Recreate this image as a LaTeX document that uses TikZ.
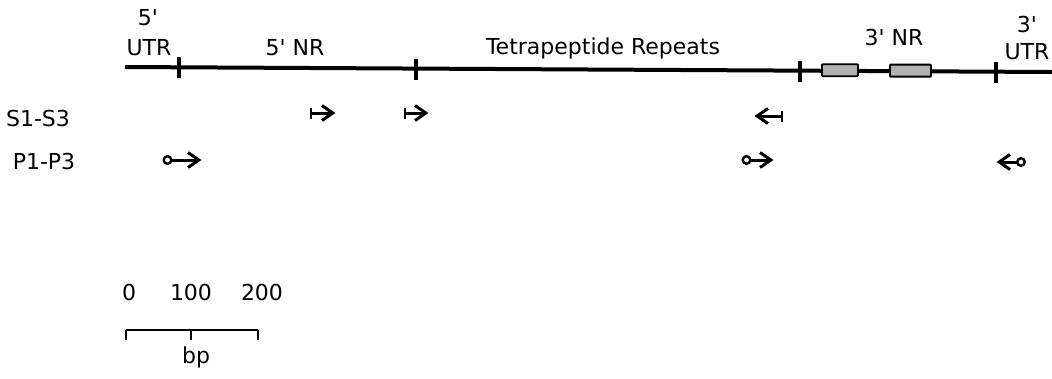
\documentclass[tikz,border=0pt]{standalone}
\usepackage{fontspec}
\newfontfamily\lblfont{DejaVu Sans}
\begin{document}
\begin{tikzpicture}[x=1pt,y=-1pt,
  lbl/.style={inner sep=0pt,font=\lblfont\fontsize{22}{24}\selectfont},
  tickmark/.style={line width=3.4pt},
  mainline/.style={line width=4pt},
  nrbox/.style={draw=black,line width=1.8pt,fill=gray!60,rounded corners=0.8pt},
  primer/.style={line width=3pt,line cap=butt,line join=miter},
]
\useasboundingbox (0,0) rectangle (1052,378);

% main gene line
\coordinate (L) at (125,67);
\coordinate (R) at (1052,72);
\draw[mainline] (L) -- (R);

% ticks
\coordinate (t1) at (179,67.3);
\coordinate (t2) at (416,68.6);
\coordinate (t3) at (800,70.7);
\coordinate (t4) at (996,71.8);
\foreach \t in {t1,t2,t3,t4}{
  \draw[tickmark] ([yshift=-11pt]\t) -- ([yshift=10pt]\t);
}

% 3' NR boxes
\node[nrbox,minimum width=36pt,minimum height=12pt,inner sep=0pt] (b1) at (840,70.2) {};
\node[nrbox,minimum width=41pt,minimum height=12pt,inner sep=0pt] (b2) at (910.5,70.6) {};

% labels
\node[lbl] (u5a) at (148,18) {5'};
\node[lbl] (u5b) at (149,48) {UTR};
\node[lbl] (nr5) at (295,48) {5' NR};
\node[lbl] (tet) at (603,48) {Tetrapeptide Repeats};
\node[lbl] (nr3) at (894,37) {3' NR};
\node[lbl] (u3a) at (1027,24) {3'};
\node[lbl] (u3b) at (1027,52) {UTR};

\node[lbl] (S) at (38,118) {S1-S3};
\node[lbl] (P) at (44,161) {P1-P3};

% S primers (start, tip, direction)
\coordinate (s1a) at (311,113); \coordinate (s1b) at (332,113);
\coordinate (s2a) at (405,113); \coordinate (s2b) at (425,113);
\coordinate (s3a) at (782,116); \coordinate (s3b) at (758,116);
\foreach \a/\b/\d in {s1a/s1b/1,s2a/s2b/1,s3a/s3b/-1}{
  \draw[primer] (\a) -- (\b);
  \draw[primer] ([shift={(-10*\d,-7.5)}]\b) -- ([shift={(0.8*\d,0)}]\b) -- ([shift={(-10*\d,7.5)}]\b);
  \draw[line width=2.6pt] ([yshift=-5.5pt]\a) -- ([yshift=5.5pt]\a);
}

% P primers
\coordinate (p1a) at (167.5,160); \coordinate (p1b) at (198,160);
\coordinate (p2a) at (746.5,160); \coordinate (p2b) at (770,160);
\coordinate (p3a) at (1021,162); \coordinate (p3b) at (1000,162);
\foreach \a/\b/\d in {p1a/p1b/1,p2a/p2b/1,p3a/p3b/-1}{
  \draw[primer] ([shift={(4*\d,0)}]\a) -- (\b);
  \draw[primer] ([shift={(-10*\d,-7.5)}]\b) -- ([shift={(0.8*\d,0)}]\b) -- ([shift={(-10*\d,7.5)}]\b);
  \draw[line width=2.4pt] (\a) circle[radius=3.8pt];
}

% scale bar
\node[lbl] (n0) at (129,292) {0};
\node[lbl] (n100) at (191,292) {100};
\node[lbl] (n200) at (262,292) {200};
\coordinate (sb0) at (126,330);
\coordinate (sb1) at (191,330);
\coordinate (sb2) at (258,330);
\draw[line width=2.2pt] (sb0) -- (sb2);
\foreach \c in {sb0,sb1,sb2}{
  \draw[line width=2.2pt] (\c) -- ([yshift=-10pt]\c);
}
\node[lbl] (bp) at (196,357) {bp};
\end{tikzpicture}
\end{document}
